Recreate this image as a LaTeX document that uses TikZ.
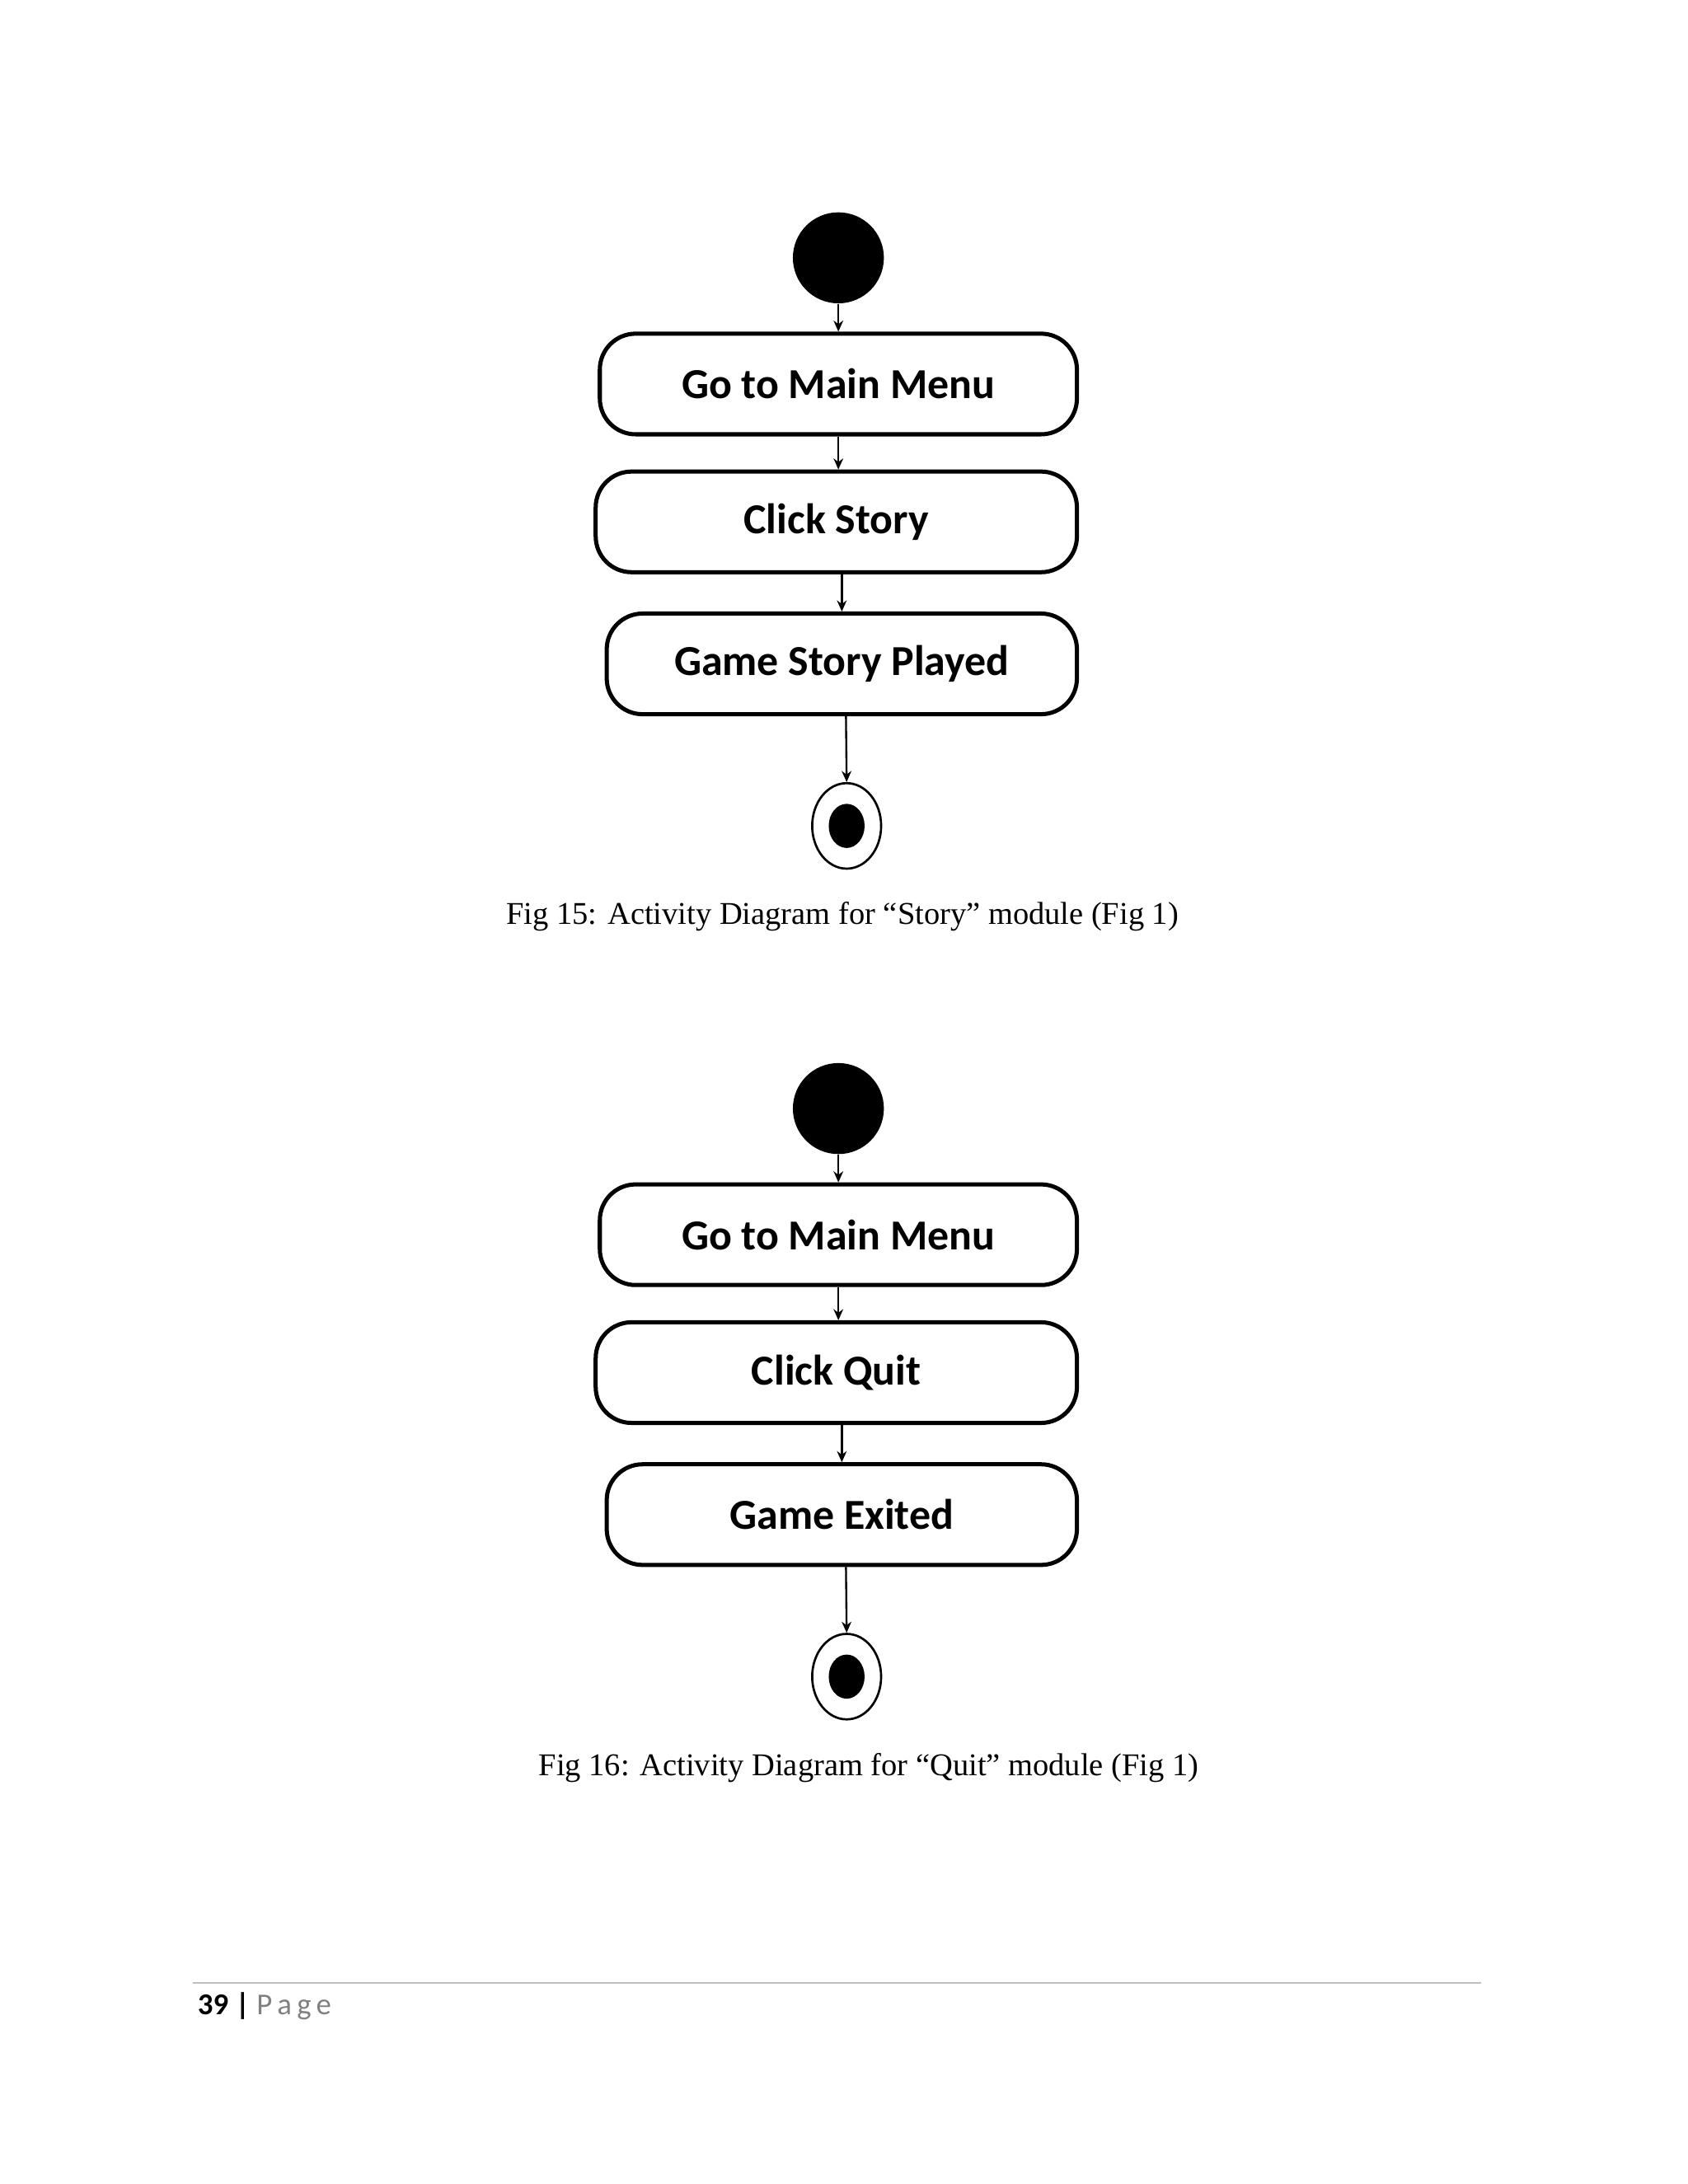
\documentclass[tikz,border=0pt]{standalone}
\usepackage{fontspec}
\setmainfont{Liberation Serif}
\newfontfamily\boxfont{Carlito}
\usetikzlibrary{shapes.geometric,arrows.meta}
\begin{document}
\begin{tikzpicture}[x=0.5pt,y=-0.5pt,
  act/.style={draw,line width=1.5pt,rounded corners=13pt,minimum height=36.5pt,font=\boxfont\bfseries\fontsize{15.5}{17}\selectfont,inner sep=0pt},
  startdot/.style={circle,fill=black,minimum size=33pt,inner sep=0pt},
  endouter/.style={ellipse,draw,line width=0.8pt,minimum width=25pt,minimum height=31pt,inner sep=0pt},
  enddot/.style={ellipse,fill=black,minimum width=13pt,minimum height=16pt,inner sep=0pt},
  flow/.style={-{Stealth[length=4pt,width=3.5pt]},line width=0.7pt},
  captext/.style={font=\fontsize{11.5}{14}\selectfont}]
\useasboundingbox (0,0) rectangle (1224,1584);
\foreach \dy/\n/\la/\lb/\lc/\cx/\captxt in {0/a/Go to Main Menu/Click Story/Game Story Played/611/{Fig 15: Activity\ Diagram\ for\ “Story”\ module\ (Fig\ 1)},617/b/Go to Main Menu/Click Quit/Game Exited/630/{Fig 16: Activity\ Diagram\ for\ “Quit”\ module\ (Fig\ 1)}}{
  \node[startdot] (s\n) at (608,187+\dy) {};
  \node[act,minimum width=173pt] (b1\n) at (608,278.5+\dy) {\la};
  \node[act,minimum width=174.5pt] (b2\n) at (606.5,378.5+\dy) {\lb};
  \node[act,minimum width=170.5pt] (b3\n) at (610.5,481.5+\dy) {\lc};
  \node[endouter] (e\n) at (614,599+\dy) {};
  \node[enddot] (ed\n) at (614,599+\dy) {};
  \node[captext] (c\n) at (\cx,665+\dy) {\captxt};
  \draw[flow] (s\n.south) -- (b1\n.north);
  \draw[flow] (b1\n.south) -- (b2\n.north -| b1\n.south);
  \draw[flow] (b2\n.south) ++(4,0) coordinate (t\n) -- (t\n |- b3\n.north);
  \draw[flow] (b3\n.south) ++(3,0) coordinate (u\n) -- (e\n.north);
}
\draw[gray!50,line width=0.6pt] (140,1438) -- (1074,1438);
\node[anchor=west,inner sep=0pt,font=\boxfont\fontsize{11}{13}\selectfont] (pg) at (143,1455) {\textbf{39 |} \textcolor{gray}{P\,a\,g\,e}};
\end{tikzpicture}
\end{document}
